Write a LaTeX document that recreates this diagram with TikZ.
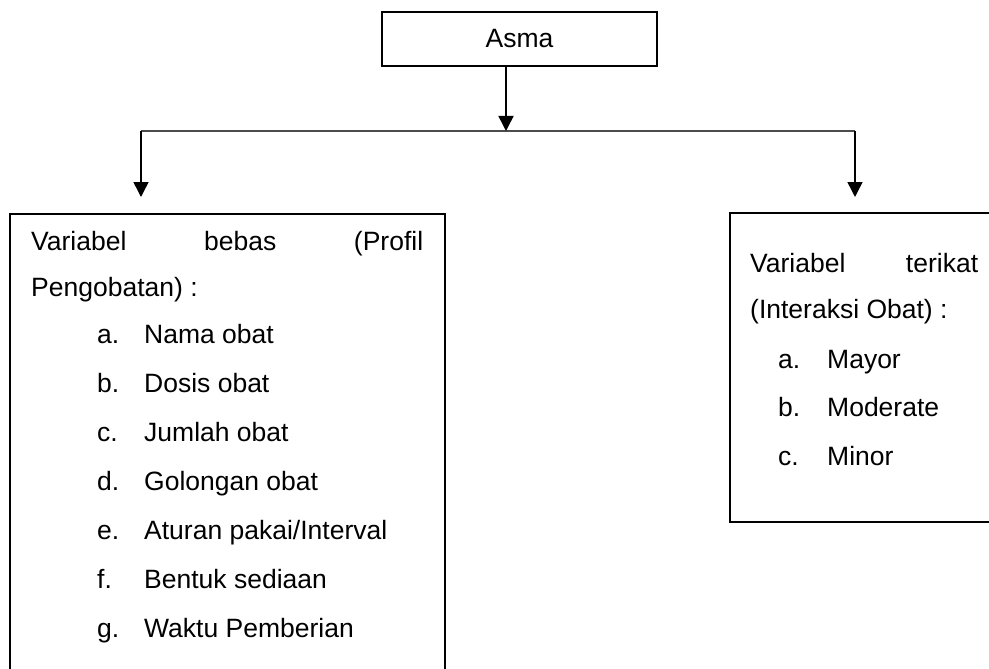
\documentclass[tikz,border=0pt]{standalone}
\usepackage{fontspec}
\setmainfont{Liberation Sans}
\usetikzlibrary{arrows.meta}
\begin{document}
\begin{tikzpicture}[x=1pt,y=-1pt,
  box/.style={draw=black,line width=1.8pt,inner sep=0pt,rectangle},
  txt/.style={anchor=base west,inner sep=0pt,font=\fontsize{26.5}{32}\selectfont},
  arr/.style={draw=black,line width=1.5pt,-{Triangle[width=15pt,length=15pt]}},
  bus/.style={draw=black!70,line width=1.8pt}]
\useasboundingbox (0,0) rectangle (989,669);
\clip (0,0) rectangle (989,669);
% boxes
\node[box,minimum width=275pt,minimum height=54pt,font=\fontsize{26.5}{32}\selectfont] (asma) at (519.5,39) {Asma};
\node[box,anchor=north west,minimum width=435pt,minimum height=520pt] (lbox) at (9,213) {};
\node[box,anchor=north west,minimum width=275pt,minimum height=309pt] (rbox) at (729,212) {};
% connectors
\coordinate (j) at (506,131);
\coordinate (jl) at (141,131);
\coordinate (jr) at (855,131);
\coordinate (tl) at (141,197);
\coordinate (tr) at (855,197);
\draw[bus] (jl) -- (jr);
\draw[arr] (asma.south -| j) -- (j);
\draw[arr] (jl) -- (tl);
\draw[arr] (jr) -- (tr);
% left box text
\node[txt] (l1) at (31,250) {\makebox[392pt][s]{Variabel\hfill bebas\hfill (Profil}};
\node[txt] (l2) at (31,296.5) {Pengobatan) :};
\node[txt] (la) at (97,343.5) {a.};  \node[txt] (lat) at (144,343.5) {Nama obat};
\node[txt] (lb) at (97,392) {b.};    \node[txt] (lbt) at (144,392) {Dosis obat};
\node[txt] (lc) at (97,441) {c.};    \node[txt] (lct) at (144,441) {Jumlah obat};
\node[txt] (ld) at (97,490) {d.};    \node[txt] (ldt) at (144,490) {Golongan obat};
\node[txt] (le) at (97,539) {e.};    \node[txt] (let) at (144,539) {Aturan pakai/Interval};
\node[txt] (lf) at (97,588) {f.};    \node[txt] (lft) at (144,588) {Bentuk sediaan};
\node[txt] (lg) at (97,637) {g.};    \node[txt] (lgt) at (144,637) {Waktu Pemberian};
% right box text
\node[txt] (r1) at (750,272) {\makebox[228pt][s]{Variabel\hfill terikat}};
\node[txt] (r2) at (750,318) {(Interaksi Obat) :};
\node[txt] (ra) at (778,368) {a.};  \node[txt] (rat) at (827,368) {Mayor};
\node[txt] (rb) at (778,416.5) {b.};  \node[txt] (rbt) at (827,416.5) {Moderate};
\node[txt] (rc) at (778,465) {c.};  \node[txt] (rct) at (827,465) {Minor};
\end{tikzpicture}
\end{document}
